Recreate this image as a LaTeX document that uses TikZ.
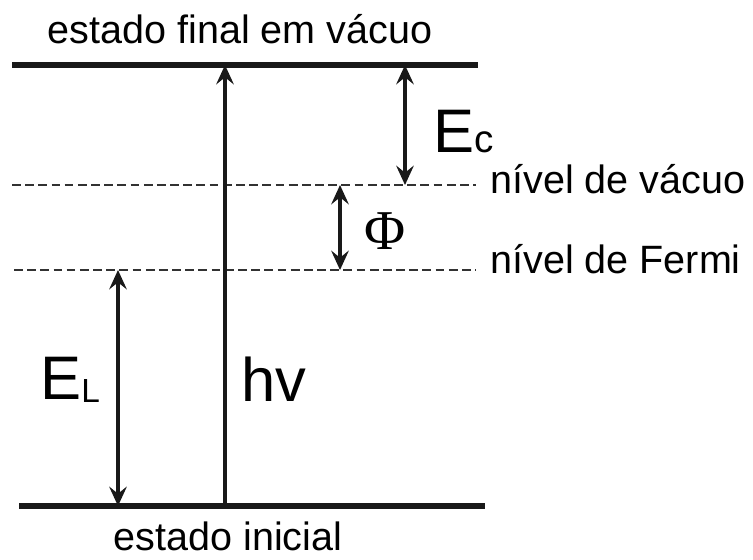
\documentclass[tikz,border=0pt]{standalone}
\usepackage{fontspec}
\setmainfont{Liberation Sans}
\newfontfamily\phifont{Liberation Serif}
\usetikzlibrary{arrows.meta, positioning}
\definecolor{lvldark}{RGB}{25,25,25}
\definecolor{lvlgray}{RGB}{50,50,50}

\begin{document}
\begin{tikzpicture}[x=0.02cm, y=-0.02cm,
	level/.style={line width=3pt, lvldark},
	dashlevel/.style={line width=1.4pt, lvlgray, dash pattern=on 5pt off 2.5pt},
	energy/.style={line width=2.4pt, lvldark, >={Stealth[length=11pt, width=10pt, inset=4pt]}},
	txt/.style={font=\fontsize{22.5}{26}\selectfont, inner sep=0pt, anchor=base},
	big/.style={font=\fontsize{35}{40}\selectfont, inner sep=0pt, anchor=base west}]
	\useasboundingbox (0,0) rectangle (753,559);
	% energy levels
	\coordinate (fin-l) at (12,65);  \coordinate (fin-r) at (478,65);
	\coordinate (vac-l) at (12,185); \coordinate (vac-r) at (476,185);
	\coordinate (fer-l) at (14,270); \coordinate (fer-r) at (476,270);
	\coordinate (ini-l) at (19,506); \coordinate (ini-r) at (485,506);
	\draw[level] (fin-l) -- (fin-r);
	\draw[level] (ini-l) -- (ini-r);
	\draw[dashlevel] (vac-l) -- (vac-r);
	\draw[dashlevel] (fer-l) -- (fer-r);
	% arrow ends
	\coordinate (hv-a) at (225,506); \coordinate (hv-b) at (225,65);
	\coordinate (ec-a) at (405,65);  \coordinate (ec-b) at (405,185);
	\coordinate (phi-a) at (340,185); \coordinate (phi-b) at (340,270);
	\coordinate (el-a) at (118,270); \coordinate (el-b) at (118,506);
	\draw[energy, ->] (hv-a) -- (hv-b);
	\draw[energy, <->] (ec-a) -- (ec-b);
	\draw[energy, <->] (phi-a) -- (phi-b);
	\draw[energy, <->] (el-a) -- (el-b);
	% labels
	\node[txt] (final) at (240,43) {estado final em vácuo};
	\node[txt] (inicial) at (228,550) {estado inicial};
	\node[txt, anchor=base west] (vacuo) at (490,193) {nível de vácuo};
	\node[txt, anchor=base west] (fermi) at (490,273) {nível de Fermi};
	\node[big] (EL) at (40,399) {E\raisebox{-2pt}{\fontsize{19}{22}\selectfont L}};
	\node[big] (hv) at (241,401) {hv};
	\node[big] (Ec) at (433,152) {E{\fontsize{22}{26}\selectfont c}};
	\node[font=\fontsize{32}{36}\selectfont\phifont, inner sep=0pt] (Phi) at (385,231) {Φ};
\end{tikzpicture}
\end{document}
